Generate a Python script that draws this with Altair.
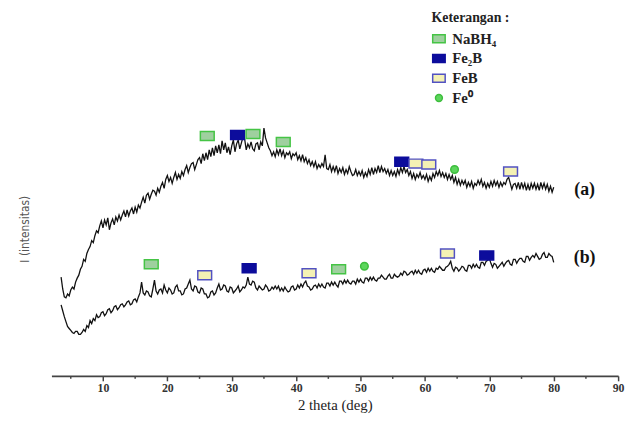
import altair as alt
import pandas as pd

# ---------------- data ----------------
START = 3.5    # first 2-theta sample (deg)
STEP = 0.25    # sampling step (deg)

curve_a = [
    100, 88,
    80, 79, 83, 81,      # 4
    87, 90, 88, 95,      # 5
    99, 102, 108, 111,   # 6
    118, 116, 124, 128,  # 7
    131, 137, 135, 142,  # 8
    147, 145, 152, 157,  # 9
    150, 158, 153, 160,  # 10
    148, 155, 159, 153,  # 11
    161, 157, 163, 158,  # 12
    163, 167, 161, 168,  # 13
    162, 167, 170, 164,  # 14
    171, 166, 173, 170,  # 15
    176, 181, 175, 183,  # 16
    185, 179, 184, 188,  # 17
    187, 183, 190, 186,  # 18
    192, 196, 190, 199,  # 19
    203, 197, 201, 195,  # 20
    201, 206, 199, 204,  # 21
    200, 207, 203, 209,  # 22
    213, 206, 211, 215,  # 23
    216, 209, 214, 219,  # 24
    221, 215, 225, 218,  # 25
    226, 219, 229, 222,  # 26
    231, 223, 233, 226,  # 27
    234, 225, 238, 229,  # 28
    236, 226, 232, 224,  # 29
    233, 239, 227, 235,  # 30
    239, 230, 236, 242,  # 31
    240, 229, 235, 231,  # 32
    237, 230, 228, 235,  # 33
    236, 229, 237, 233,  # 34
    251, 241, 236, 231,  # 35
    228, 223, 227, 222,  # 36
    229, 224, 230, 223,  # 37
    228, 221, 226, 224,  # 38
    227, 220, 225, 223,  # 39
    226, 219, 223, 218,  # 40
    224, 217, 221, 215,  # 41
    219, 213, 217, 212,  # 42
    217, 210, 214, 211,  # 43
    215, 212, 224, 210,  # 44
    209, 214, 207, 212,  # 45
    207, 213, 205, 210,  # 46
    206, 211, 204, 209,  # 47
    205, 212, 207, 203,  # 48
    204, 209, 203, 207,  # 49
    203, 208, 201, 206,  # 50
    202, 209, 204, 211,  # 51
    204, 210, 206, 213,  # 52
    206, 212, 207, 210,  # 53
    205, 209, 203, 208,  # 54
    203, 207, 202, 209,  # 55
    204, 211, 206, 212,  # 56
    206, 209, 203, 207,  # 57
    200, 205, 199, 204,  # 58
    201, 206, 200, 203,  # 59
    199, 204, 197, 202,  # 60
    198, 205, 201, 207,  # 61
    203, 208, 202, 206,  # 62
    201, 205, 199, 204,  # 63
    199, 203, 196, 201,  # 64
    194, 199, 193, 198,  # 65
    194, 198, 191, 196,  # 66
    192, 197, 190, 195,  # 67
    193, 198, 194, 199,  # 68
    192, 196, 190, 195,  # 69
    191, 197, 192, 198,  # 70
    193, 197, 191, 196,  # 71
    192, 196, 194, 199,  # 72
    201, 195, 189, 194,  # 73
    195, 190, 196, 189,  # 74
    196, 190, 195, 188,  # 75
    194, 188, 195, 190,  # 76
    195, 189, 194, 188,  # 77
    196, 190, 195, 189,  # 78
    194, 187, 192, 186,  # 79
    191,                 # 80
]

curve_b = [
    72, 66,
    60, 55, 50, 48,      # 4
    46, 44, 43, 45,      # 5
    45, 42, 42, 44,      # 6
    47, 45, 51, 49,      # 7
    56, 53, 58, 56,      # 8
    62, 59, 60, 64,      # 9
    65, 61, 63, 67,      # 10
    68, 64, 66, 70,      # 11
    71, 67, 69, 72,      # 12
    73, 70, 72, 75,      # 13
    76, 72, 73, 77,      # 14
    78, 75, 80, 84,      # 15
    95, 84, 82, 86,      # 16
    85, 81, 80, 88,      # 17
    97, 86, 83, 87,      # 18
    88, 84, 92, 87,      # 19
    84, 89, 87, 83,      # 20
    84, 90, 92, 86,      # 21
    86, 82, 83, 88,      # 22
    89, 93, 97, 88,      # 23
    86, 91, 90, 85,      # 24
    84, 89, 88, 83,      # 25
    83, 79, 80, 85,      # 26
    86, 82, 84, 89,      # 27
    93, 87, 88, 92,      # 28
    91, 86, 85, 90,      # 29
    89, 84, 86, 88,      # 30
    91, 85, 87, 90,      # 31
    89, 92, 100, 93,     # 32
    92, 96, 95, 89,      # 33
    87, 91, 89, 87,      # 34
    88, 92, 90, 86,      # 35
    87, 90, 88, 91,      # 36
    88, 91, 86, 89,      # 37
    86, 90, 87, 85,      # 38
    86, 90, 91, 87,      # 39
    88, 92, 89, 93,      # 40
    90, 94, 96, 91,      # 41
    90, 87, 88, 91,      # 42
    92, 89, 93, 90,      # 43
    93, 90, 89, 94,      # 44
    94, 91, 95, 92,      # 45
    95, 92, 90, 96,      # 46
    96, 93, 97, 94,      # 47
    97, 94, 93, 96,      # 48
    96, 93, 98, 95,      # 49
    98, 95, 94, 99,      # 50
    99, 96, 100, 97,     # 51
    100, 97, 96, 99,     # 52
    99, 102, 100, 98,    # 53
    98, 101, 103, 99,    # 54
    99, 103, 101, 100,   # 55
    101, 104, 102, 106,  # 56
    105, 102, 103, 105,  # 57
    106, 103, 107, 104,  # 58
    107, 104, 103, 107,  # 59
    108, 105, 109, 106,  # 60
    109, 106, 105, 109,  # 61
    108, 111, 109, 107,  # 62
    107, 110, 111, 113,  # 63
    116, 109, 106, 110,  # 64
    109, 106, 108, 111,  # 65
    110, 107, 106, 112,  # 66
    112, 109, 113, 110,  # 67
    113, 110, 109, 115,  # 68
    115, 112, 116, 117,  # 69
    119, 114, 110, 114,  # 70
    113, 109, 111, 113,  # 71
    115, 111, 114, 116,  # 72
    117, 113, 112, 118,  # 73
    118, 114, 117, 119,  # 74
    119, 116, 115, 121,  # 75
    121, 117, 120, 122,  # 76
    120, 124, 121, 118,  # 77
    119, 123, 125, 120,  # 78
    120, 124, 122, 121,  # 79
    115,                 # 80
]

phases = ["NaBH\u2084", "Fe\u2082B", "FeB", "Fe\u2070"]
phase_fill = ["#9fd09f", "#0c0c9c", "#f4f1b4", "#5cd65c"]
phase_stroke = ["#45c445", "#0c0c9c", "#5252c2", "#3dbd3d"]

marker_theta = [26.2, 30.9, 33.3, 38.0, 56.4, 58.6, 60.6, 64.6, 73.3,
                17.5, 25.8, 32.7, 42.0, 46.6, 50.6, 63.5, 69.6]
marker_int = [243, 244, 245, 237, 217, 215, 214, 209, 207,
              113, 102, 109, 104, 108, 111, 124, 122]
marker_phase = [0, 1, 0, 0, 1, 2, 2, 3, 2,
                0, 2, 1, 2, 0, 3, 2, 1]

tick_major = [10, 20, 30, 40, 50, 60, 70, 80, 90]
tick_minor = [5, 15, 25, 35, 45, 55, 65, 75, 85]

label_text = ["(a)", "(b)"]
label_theta = [84.8, 84.8]
label_int = [188, 119]

# ---------------- tables ----------------
rows = []
for name, vals in (("a", curve_a), ("b", curve_b)):
    for i, v in enumerate(vals):
        rows.append({"theta": START + STEP * i, "intensity": v, "series": name})
lines_df = pd.DataFrame(rows)

markers_df = pd.DataFrame({
    "theta": marker_theta,
    "intensity": marker_int,
    "phase": [phases[k] for k in marker_phase],
})
minor_df = pd.DataFrame({"theta": tick_minor})
labels_df = pd.DataFrame({"theta": label_theta, "intensity": label_int, "text": label_text})

# ---------------- encodings ----------------
SERIF = "Liberation Serif"
RECT = "M-1,-0.65H1V0.65H-1Z"
CIRC = "M0,-0.55A0.55,0.55 0 1,1 0,0.55A0.55,0.55 0 1,1 0,-0.55Z"

x_scale = alt.Scale(domain=[2, 90], nice=False, zero=False)
x_axis = alt.Axis(
    values=tick_major, title="2 theta (deg)", grid=False,
    domainColor="#444", domainWidth=1.8, tickColor="#444", tickWidth=1.5, tickSize=5,
    labelFont=SERIF, labelFontSize=12, labelFontWeight="bold", labelColor="#333",
    labelPadding=2, labelFlush=False,
    titleFont=SERIF, titleFontSize=15, titleFontWeight="normal", titleColor="#222",
    titlePadding=4,
)
y_scale = alt.Scale(domain=[0, 370], nice=False, zero=False)
y_axis = alt.Axis(
    title="I (intensitas)", domain=False, ticks=False, labels=False, grid=False,
    titleFont="Liberation Sans Narrow, DejaVu Sans Condensed, sans-serif",
    titleFontSize=12, titleFontWeight="normal", titleColor="#555",
    titlePadding=20, titleY=221,
)

X = alt.X("theta:Q", scale=x_scale, axis=x_axis)
Y = alt.Y("intensity:Q", scale=y_scale, axis=y_axis)

lines = alt.Chart(lines_df).mark_line(color="#111", strokeWidth=1.3).encode(
    x=X, y=Y, detail="series:N"
)

minor = alt.Chart(minor_df).mark_rule(color="#444", strokeWidth=1.5).encode(
    x=X, y=alt.value(370), y2=alt.value(373)
)

legend = alt.Legend(
    title="Keterangan :", orient="none", legendX=385, legendY=1,
    titleFont=SERIF, titleFontSize=14, titleFontWeight="bold", titleColor="#222",
    labelFont=SERIF, labelFontSize=15, labelFontWeight="bold", labelColor="#222",
    symbolSize=160, symbolStrokeWidth=1.5, rowPadding=4, labelOffset=6,
    titlePadding=6, padding=0, offset=0,
)

markers = alt.Chart(markers_df).mark_point(filled=True, size=196, strokeWidth=1.5, opacity=1).encode(
    x=X, y=Y,
    shape=alt.Shape("phase:N", scale=alt.Scale(domain=phases, range=[RECT, RECT, RECT, CIRC]), legend=legend),
    fill=alt.Fill("phase:N", scale=alt.Scale(domain=phases, range=phase_fill), legend=legend),
    stroke=alt.Stroke("phase:N", scale=alt.Scale(domain=phases, range=phase_stroke), legend=legend),
)

labels = alt.Chart(labels_df).mark_text(
    font=SERIF, fontSize=18, fontWeight="bold", color="#111", align="center", baseline="middle"
).encode(x=X, y=Y, text="text:N")

chart = alt.layer(lines, minor, markers, labels).properties(
    width=574, height=370,
    padding={"left": 44, "top": 0, "right": 9, "bottom": 37},
    autosize=alt.AutoSizeParams(type="none"),
).configure_view(stroke=None)

chart.save("out.html", embed_options={"renderer": "svg", "actions": False})
